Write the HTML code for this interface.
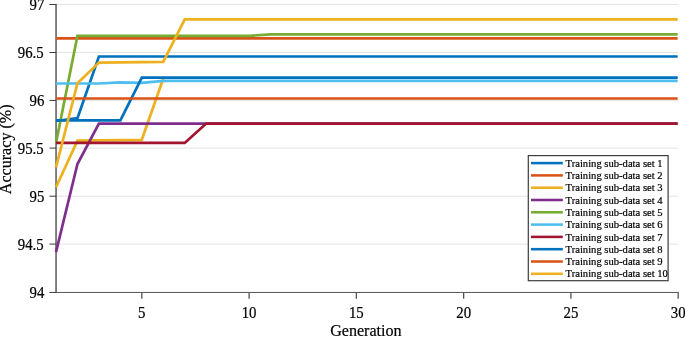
<!DOCTYPE html>
<html><head><meta charset="utf-8"><title>Accuracy vs Generation</title>
<style>html,body{margin:0;padding:0;background:#fff}svg{display:block}text{font-family:"Liberation Serif","Times New Roman",serif;fill:#000;stroke:#000;stroke-width:0.2}</style></head><body>
<svg width="685" height="337" viewBox="0 0 685 337">
<rect width="685" height="337" fill="#fff"/>
<line x1="56.0" x2="678.2" y1="244.10" y2="244.10" stroke="#e3e3e3" stroke-width="1"/>
<line x1="56.0" x2="678.2" y1="196.20" y2="196.20" stroke="#e3e3e3" stroke-width="1"/>
<line x1="56.0" x2="678.2" y1="148.10" y2="148.10" stroke="#e3e3e3" stroke-width="1"/>
<line x1="56.0" x2="678.2" y1="100.40" y2="100.40" stroke="#e3e3e3" stroke-width="1"/>
<line x1="56.0" x2="678.2" y1="52.50" y2="52.50" stroke="#e3e3e3" stroke-width="1"/>
<line x1="56.0" x2="678.2" y1="4.50" y2="4.50" stroke="#e3e3e3" stroke-width="1"/>
<g stroke="#545454" stroke-width="1" fill="none">
<line x1="56.05" x2="56.05" y1="4.0" y2="292.95" stroke-width="1.5" stroke="#585858"/>
<line x1="56.0" x2="678.80" y1="292.45" y2="292.45"/>
<line x1="49.4" x2="56.0" y1="292.45" y2="292.45" stroke="#3c3c3c"/>
<line x1="49.4" x2="56.0" y1="244.10" y2="244.10" stroke="#3c3c3c"/>
<line x1="49.4" x2="56.0" y1="196.20" y2="196.20" stroke="#3c3c3c"/>
<line x1="49.4" x2="56.0" y1="148.10" y2="148.10" stroke="#3c3c3c"/>
<line x1="49.4" x2="56.0" y1="100.40" y2="100.40" stroke="#3c3c3c"/>
<line x1="49.4" x2="56.0" y1="52.50" y2="52.50" stroke="#3c3c3c"/>
<line x1="49.4" x2="56.0" y1="4.50" y2="4.50" stroke="#3c3c3c"/>
<line x1="141.82" x2="141.82" y1="292.45" y2="298.85" stroke-width="1.3"/>
<line x1="249.10" x2="249.10" y1="292.45" y2="298.85" stroke-width="1.3"/>
<line x1="356.37" x2="356.37" y1="292.45" y2="298.85" stroke-width="1.3"/>
<line x1="463.65" x2="463.65" y1="292.45" y2="298.85" stroke-width="1.3"/>
<line x1="570.92" x2="570.92" y1="292.45" y2="298.85" stroke-width="1.3"/>
<line x1="678.20" x2="678.20" y1="292.45" y2="298.85" stroke-width="1.3"/>
</g>
<g fill="none" stroke-width="2.7" stroke-linejoin="miter" stroke-linecap="butt">
<polyline points="56.00,121.00 77.46,118.20 98.91,56.50 677.66,56.50" stroke="#0072BD"/>
<polyline points="56.00,38.35 677.66,38.35" stroke="#D95319"/>
<polyline points="56.00,187.20 77.46,140.60 141.82,139.80 163.28,78.50" stroke="#EDB120"/>
<polyline points="163.28,77.70 677.66,77.70" stroke="#EDB120" stroke-width="1.4"/>
<polyline points="56.00,252.10 77.46,164.00 98.91,123.55 677.66,123.55" stroke="#7E2F8E"/>
<polyline points="56.00,143.00 77.46,35.80 249.10,35.80 270.55,34.40 677.66,34.40" stroke="#77AC30"/>
<polyline points="56.00,83.50 98.91,83.50 120.37,82.40 141.82,82.80 163.28,80.90 677.66,80.90" stroke="#4DBEEE"/>
<polyline points="56.00,142.90 184.73,142.90 206.19,123.60 677.66,123.60" stroke="#A2142F"/>
<polyline points="56.00,120.45 120.37,120.45 141.82,77.70 677.66,77.70" stroke="#0072BD"/>
<polyline points="56.00,98.50 677.66,98.50" stroke="#D95319"/>
<polyline points="56.00,167.40 77.46,83.20 98.91,62.60 163.28,61.80 184.73,19.45 677.66,19.45" stroke="#EDB120"/>
</g>
<g font-size="14.8" text-anchor="end">
<text transform="translate(44.40,297.95) scale(1,1.06)">94</text>
<text transform="translate(43.70,249.60) scale(1,1.06)">94.5</text>
<text transform="translate(44.40,201.70) scale(1,1.06)">95</text>
<text transform="translate(43.70,153.60) scale(1,1.06)">95.5</text>
<text transform="translate(44.40,105.90) scale(1,1.06)">96</text>
<text transform="translate(43.70,58.00) scale(1,1.06)">96.5</text>
<text transform="translate(44.40,10.00) scale(1,1.06)">97</text>
</g>
<g font-size="14.8" text-anchor="middle">
<text transform="translate(141.82,318.2) scale(1,1.07)">5</text>
<text transform="translate(249.10,318.2) scale(1,1.07)">10</text>
<text transform="translate(356.37,318.2) scale(1,1.07)">15</text>
<text transform="translate(463.65,318.2) scale(1,1.07)">20</text>
<text transform="translate(570.92,318.2) scale(1,1.07)">25</text>
<text transform="translate(678.20,318.2) scale(1,1.07)">30</text>
</g>
<text x="365.9" y="336.0" font-size="16.1" text-anchor="middle">Generation</text>
<text transform="translate(11.0,149.3) rotate(-90)" font-size="16.1" text-anchor="middle">Accuracy (%)</text>
<rect x="528.3" y="155.6" width="139.80000000000007" height="125.10" fill="#fff" stroke="#3c3c3c" stroke-width="1.2"/>
<g font-size="10.6">
<line x1="531" x2="562.8" y1="163.10" y2="163.10" stroke="#0072BD" stroke-width="2.55"/>
<text x="565.6" y="166.70">Training sub-data set 1</text>
<line x1="531" x2="562.8" y1="175.40" y2="175.40" stroke="#D95319" stroke-width="2.55"/>
<text x="565.6" y="179.00">Training sub-data set 2</text>
<line x1="531" x2="562.8" y1="187.70" y2="187.70" stroke="#EDB120" stroke-width="2.55"/>
<text x="565.6" y="191.30">Training sub-data set 3</text>
<line x1="531" x2="562.8" y1="200.00" y2="200.00" stroke="#7E2F8E" stroke-width="2.55"/>
<text x="565.6" y="203.60">Training sub-data set 4</text>
<line x1="531" x2="562.8" y1="212.30" y2="212.30" stroke="#77AC30" stroke-width="2.55"/>
<text x="565.6" y="215.90">Training sub-data set 5</text>
<line x1="531" x2="562.8" y1="224.60" y2="224.60" stroke="#4DBEEE" stroke-width="2.55"/>
<text x="565.6" y="228.20">Training sub-data set 6</text>
<line x1="531" x2="562.8" y1="236.90" y2="236.90" stroke="#A2142F" stroke-width="2.55"/>
<text x="565.6" y="240.50">Training sub-data set 7</text>
<line x1="531" x2="562.8" y1="249.20" y2="249.20" stroke="#0072BD" stroke-width="2.55"/>
<text x="565.6" y="252.80">Training sub-data set 8</text>
<line x1="531" x2="562.8" y1="261.50" y2="261.50" stroke="#D95319" stroke-width="2.55"/>
<text x="565.6" y="265.10">Training sub-data set 9</text>
<line x1="531" x2="562.8" y1="273.80" y2="273.80" stroke="#EDB120" stroke-width="2.55"/>
<text x="565.6" y="277.40">Training sub-data set 10</text>
</g>
</svg></body></html>
